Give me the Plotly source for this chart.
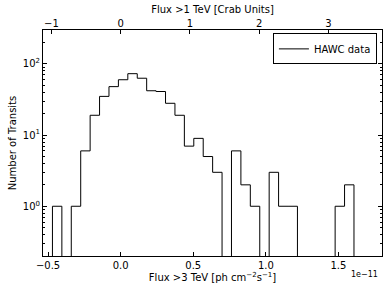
import numpy as np
import plotly.graph_objects as go

# ---- data (flux in units of 1e-11 ph cm^-2 s^-1) ----
flux_min_e11 = -0.47
flux_max_e11 = 1.607
n_bins = 32
counts = [1, 0, 1, 6, 19, 35, 48, 60, 73, 63, 42, 41, 28,
          19, 7, 9, 5, 3, 0, 6, 2, 1, 0, 3, 1, 1,
          0, 0, 0, 0, 1, 2]
crab_unit_e11 = 0.477          # 1 Crab (>1 TeV) expressed in the bottom-axis flux units
bottom_ticks = [-0.5, 0.0, 0.5, 1.0, 1.5]
top_ticks = [-1, 0, 1, 2, 3]
y_major = [1, 10, 100]
y_major_text = ["10<sup>0</sup>", "10<sup>1</sup>", "10<sup>2</sup>"]
x_range = [-0.535, 1.8]
y_range = [0.2, 300]

# ---- build step outline (histtype='step') ----
edges = np.linspace(flux_min_e11, flux_max_e11, n_bins + 1)
floor = 1e-3  # below the visible range: zero bins drop to the axis
xs = [edges[0]]
ys = [floor]
for i, c in enumerate(counts):
    v = c if c > 0 else floor
    xs += [edges[i], edges[i + 1]]
    ys += [v, v]
xs.append(edges[-1])
ys.append(floor)

minor_vals = [m * 10 ** d for d in range(-1, 3) for m in range(2, 10)
              if y_range[0] <= m * 10 ** d <= y_range[1]]

font = dict(family="DejaVu Sans", size=10, color="black")

fig = go.Figure()
fig.add_trace(go.Scatter(x=xs, y=ys, mode="lines", name="HAWC data",
                         line=dict(color="black", width=1), hoverinfo="skip"))
fig.add_trace(go.Scatter(x=[None], y=[None], xaxis="x2", mode="lines",
                         showlegend=False, hoverinfo="skip"))

fig.update_layout(
    width=390, height=293,
    margin=dict(l=43, r=8, t=30, b=37),
    paper_bgcolor="white", plot_bgcolor="white",
    font=font,
    showlegend=True,
    legend=dict(x=0.985, y=0.985, xanchor="right", yanchor="top",
                bordercolor="black", borderwidth=1, bgcolor="white",
                font=dict(family="DejaVu Sans", size=10, color="black"),
                tracegroupgap=0, itemwidth=30),
    xaxis=dict(range=x_range, tickvals=bottom_ticks, tickformat=".1f",
               ticks="inside", ticklen=4, tickcolor="black",
               showline=True, linecolor="black", linewidth=1, mirror=True,
               showgrid=False, zeroline=False, automargin=False,
               title=dict(text="Flux >3 TeV [ph cm<sup>−2</sup>s<sup>−1</sup>]",
                          standoff=3, font=dict(size=10))),
    xaxis2=dict(overlaying="x", side="top", anchor="y",
                range=[x_range[0] / crab_unit_e11, x_range[1] / crab_unit_e11],
                tickvals=top_ticks, ticks="inside", ticklen=4, tickcolor="black",
                showline=False, showgrid=False, zeroline=False, automargin=False,
                title=dict(text="Flux >1 TeV [Crab Units]", standoff=2,
                           font=dict(size=10))),
    yaxis=dict(type="log", range=[np.log10(y_range[0]), np.log10(y_range[1])],
               tickvals=y_major, ticktext=y_major_text,
               ticks="inside", ticklen=4, tickcolor="black",
               minor=dict(tickvals=minor_vals, ticks="inside", ticklen=2,
                          tickcolor="black", showgrid=False),
               showline=True, linecolor="black", linewidth=1, mirror="ticks",
               showgrid=False, zeroline=False, automargin=False,
               title=dict(text="Number of Transits", standoff=4,
                          font=dict(size=10))),
    annotations=[dict(text="1e−11", xref="paper", yref="paper", x=0.995, y=-0.084,
                      xanchor="right", yanchor="middle", showarrow=False,
                      font=dict(family="DejaVu Sans", size=8, color="black"))],
)

fig.write_html("out.html",
               config={"displayModeBar": False},
               post_script="document.body.style.margin='0';"
                           "document.body.style.overflow='hidden';")
